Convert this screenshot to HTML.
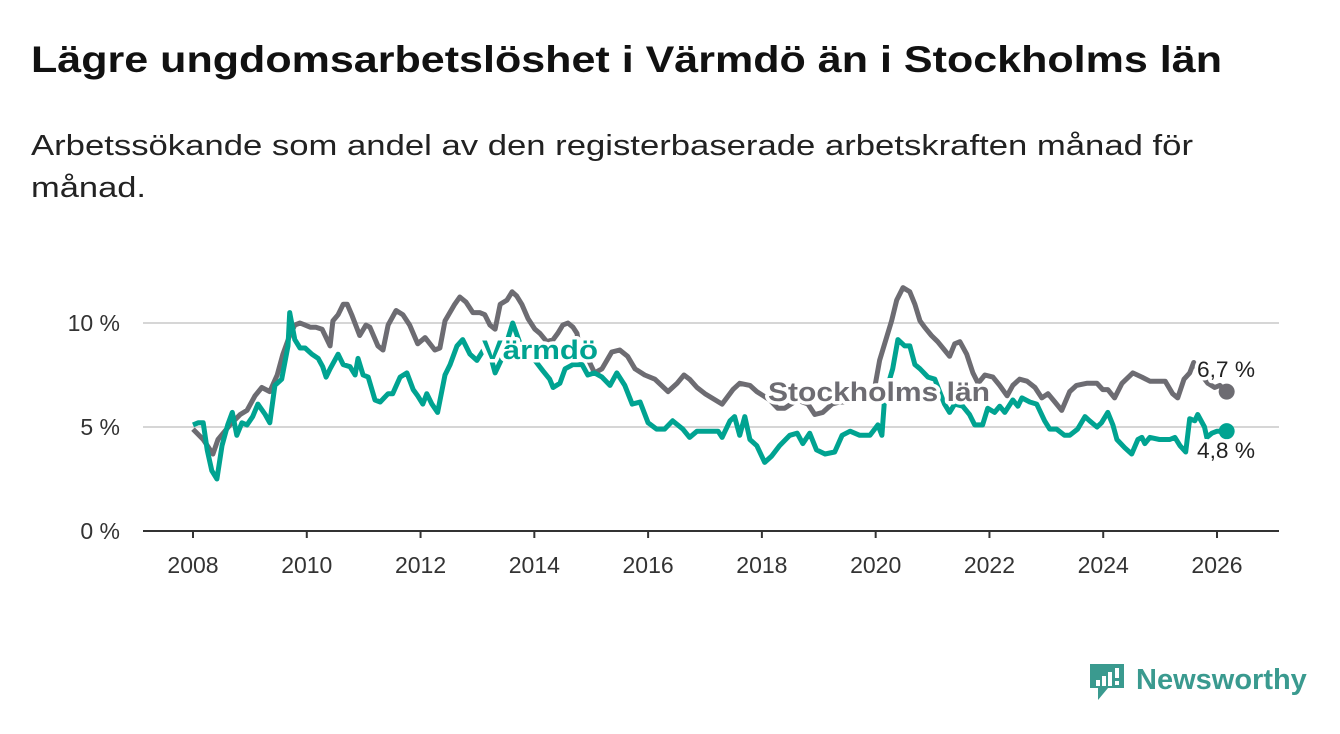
<!DOCTYPE html>
<html><head><meta charset="utf-8"><style>
body{margin:0;background:#fff;width:1340px;height:734px;overflow:hidden;font-family:"Liberation Sans",sans-serif}
</style></head><body>
<svg width="1340" height="734" style="position:absolute;left:0;top:0">
<text x="31" y="72" font-size="37" font-weight="bold" fill="#111" textLength="1191" lengthAdjust="spacingAndGlyphs">Lägre ungdomsarbetslöshet i Värmdö än i Stockholms län</text>
<text x="31" y="155" font-size="29" fill="#222" textLength="1162" lengthAdjust="spacingAndGlyphs">Arbetssökande som andel av den registerbaserade arbetskraften månad för</text>
<text x="31" y="197" font-size="29" fill="#222" textLength="115" lengthAdjust="spacingAndGlyphs">månad.</text>
<g id="grid"></g><g id="series"></g><g id="labels"></g>
<g>
<path d="M1090 664 h34 v24 h-16 l-10 12 v-12 h-8 z" fill="#3a9a8f"/>
<rect x="1096" y="680" width="4" height="6" fill="#fff"/><rect x="1102" y="676" width="4" height="10" fill="#fff"/><rect x="1108" y="672" width="4" height="14" fill="#fff"/><rect x="1115" y="668" width="4" height="10" fill="#fff"/><rect x="1115" y="681" width="4" height="4" fill="#fff"/>
<text x="1136" y="689" font-size="29" font-weight="bold" fill="#3a9a8f">Newsworthy</text>
</g>
</svg>
<script>
const yTicks=[0,5,10];
const yTickLabels=["0 %","5 %","10 %"];
const xTicks=[2008,2010,2012,2014,2016,2018,2020,2022,2024,2026];
const sthlmDates=[2008.00,2008.18,2008.35,2008.44,2008.65,2008.83,2008.95,2009.09,2009.21,2009.35,2009.48,2009.58,2009.70,2009.79,2009.88,2009.97,2010.06,2010.16,2010.27,2010.34,2010.41,2010.46,2010.55,2010.64,2010.71,2010.79,2010.93,2011.04,2011.11,2011.25,2011.34,2011.43,2011.57,2011.69,2011.81,2011.95,2012.08,2012.25,2012.34,2012.43,2012.60,2012.69,2012.80,2012.92,2013.04,2013.13,2013.22,2013.31,2013.40,2013.52,2013.61,2013.69,2013.78,2013.89,2014.01,2014.10,2014.22,2014.33,2014.41,2014.50,2014.59,2014.68,2014.75,2014.80,2014.92,2015.06,2015.19,2015.36,2015.50,2015.64,2015.77,2015.94,2016.12,2016.35,2016.51,2016.63,2016.73,2016.86,2017.00,2017.12,2017.30,2017.49,2017.61,2017.79,2017.91,2018.14,2018.28,2018.40,2018.62,2018.81,2018.93,2019.07,2019.23,2019.37,2019.55,2019.81,2019.99,2020.07,2020.18,2020.28,2020.37,2020.48,2020.60,2020.69,2020.78,2020.86,2020.98,2021.09,2021.21,2021.30,2021.39,2021.48,2021.60,2021.71,2021.80,2021.92,2022.06,2022.18,2022.31,2022.41,2022.53,2022.66,2022.80,2022.92,2023.03,2023.15,2023.27,2023.41,2023.53,2023.71,2023.89,2023.99,2024.08,2024.20,2024.33,2024.52,2024.68,2024.82,2025.09,2025.22,2025.31,2025.42,2025.52,2025.59,2025.70,2025.84,2025.96,2026.05,2026.17];
const sthlmValues=[4.9,4.4,3.7,4.4,5.1,5.6,5.8,6.5,6.9,6.7,7.5,8.5,9.4,9.9,10.0,9.9,9.8,9.8,9.7,9.3,8.9,10.1,10.4,10.9,10.9,10.4,9.4,9.9,9.8,8.9,8.7,9.9,10.6,10.4,9.9,9.0,9.3,8.7,8.8,10.1,10.9,11.25,11.0,10.5,10.5,10.4,9.9,9.7,10.9,11.1,11.5,11.3,10.9,10.2,9.7,9.5,9.1,9.2,9.5,9.9,10.0,9.8,9.5,8.7,8.4,7.6,7.8,8.6,8.7,8.4,7.8,7.5,7.3,6.7,7.1,7.5,7.3,6.9,6.6,6.4,6.1,6.8,7.1,7.0,6.7,6.3,5.9,5.9,6.3,6.1,5.6,5.7,6.1,6.2,6.2,6.4,7.0,8.2,9.2,10.1,11.1,11.7,11.5,10.9,10.1,9.8,9.4,9.1,8.7,8.4,9.0,9.1,8.5,7.6,7.1,7.5,7.4,7.0,6.5,7.0,7.3,7.2,6.9,6.4,6.6,6.2,5.8,6.7,7.0,7.1,7.1,6.8,6.8,6.4,7.1,7.6,7.4,7.2,7.2,6.6,6.4,7.3,7.6,8.1,7.6,7.1,6.9,7.0,6.7];
const varmdoDates=[2008.00,2008.09,2008.18,2008.25,2008.33,2008.42,2008.51,2008.61,2008.69,2008.77,2008.86,2008.95,2009.05,2009.14,2009.27,2009.35,2009.44,2009.56,2009.67,2009.70,2009.79,2009.88,2009.97,2010.09,2010.20,2010.28,2010.34,2010.41,2010.55,2010.64,2010.76,2010.85,2010.90,2010.99,2011.08,2011.20,2011.29,2011.43,2011.51,2011.64,2011.76,2011.87,2011.95,2012.04,2012.11,2012.20,2012.30,2012.43,2012.52,2012.64,2012.74,2012.87,2012.99,2013.13,2013.25,2013.31,2013.43,2013.53,2013.62,2013.75,2013.89,2014.01,2014.15,2014.27,2014.33,2014.45,2014.54,2014.68,2014.84,2014.94,2015.06,2015.19,2015.33,2015.45,2015.59,2015.72,2015.86,2016.00,2016.15,2016.29,2016.43,2016.61,2016.73,2016.86,2017.05,2017.23,2017.30,2017.44,2017.52,2017.61,2017.70,2017.79,2017.91,2018.05,2018.17,2018.31,2018.49,2018.62,2018.72,2018.84,2018.96,2019.11,2019.28,2019.41,2019.55,2019.72,2019.90,2020.04,2020.11,2020.16,2020.30,2020.39,2020.51,2020.60,2020.69,2020.78,2020.92,2021.04,2021.21,2021.30,2021.39,2021.53,2021.65,2021.74,2021.88,2021.97,2022.09,2022.18,2022.27,2022.41,2022.50,2022.57,2022.71,2022.83,2022.97,2023.06,2023.18,2023.32,2023.41,2023.55,2023.68,2023.76,2023.89,2023.97,2024.08,2024.17,2024.24,2024.38,2024.50,2024.61,2024.68,2024.73,2024.82,2024.99,2025.17,2025.26,2025.35,2025.45,2025.52,2025.61,2025.66,2025.78,2025.82,2025.91,2026.00,2026.17];
const varmdoValues=[5.1,5.2,5.2,3.9,2.9,2.5,4.1,5.1,5.7,4.6,5.2,5.1,5.5,6.1,5.6,5.2,7.0,7.3,8.9,10.5,9.2,8.8,8.8,8.5,8.3,7.9,7.4,7.8,8.5,8.0,7.9,7.5,8.3,7.5,7.4,6.3,6.2,6.6,6.6,7.4,7.6,6.8,6.5,6.1,6.6,6.1,5.7,7.5,8.0,8.9,9.2,8.5,8.2,8.8,8.2,7.6,8.3,9.2,10.0,9.0,8.5,8.2,7.7,7.3,6.9,7.1,7.8,8.0,8.0,7.5,7.6,7.4,7.0,7.6,7.0,6.1,6.2,5.2,4.9,4.9,5.3,4.9,4.5,4.8,4.8,4.8,4.5,5.3,5.5,4.6,5.5,4.4,4.1,3.3,3.6,4.1,4.6,4.7,4.2,4.7,3.9,3.7,3.8,4.6,4.8,4.6,4.6,5.1,4.6,6.5,7.8,9.2,8.9,8.9,8.0,7.8,7.4,7.3,6.1,5.7,6.1,6.0,5.6,5.1,5.1,5.9,5.7,6.0,5.7,6.3,6.0,6.4,6.2,6.1,5.3,4.9,4.9,4.6,4.6,4.9,5.5,5.3,5.0,5.2,5.7,5.1,4.4,4.0,3.7,4.4,4.5,4.2,4.5,4.4,4.4,4.5,4.1,3.8,5.4,5.3,5.6,5.0,4.5,4.7,4.8,4.8];
const NS='http://www.w3.org/2000/svg';
const X=y=>193+(y-2008)*(1217-193)/18;
const Y=v=>531-v*20.8;
function mk(t,a,p){const e=document.createElementNS(NS,t);for(const k in a)e.setAttribute(k,a[k]);p.appendChild(e);return e;}
const grid=document.getElementById('grid'),ser=document.getElementById('series'),lab=document.getElementById('labels');
yTicks.forEach((t,i)=>{
 const l=mk('line',{x1:143,x2:1279,y1:Y(t),y2:Y(t),stroke:t===0?'#333':'#d6d6d6','stroke-width':2},grid);
 
 
 const tx=mk('text',{x:120,y:Y(t)+8,'font-size':23,fill:'#333','text-anchor':'end'},grid);tx.textContent=yTickLabels[i];
 
 
});
xTicks.forEach(t=>{
 const l=mk('line',{x1:X(t),x2:X(t),y1:531,y2:538,stroke:'#333','stroke-width':2},grid);
 
 
 const tx=mk('text',{x:X(t),y:573,'font-size':23,fill:'#333','text-anchor':'middle'},grid);tx.textContent=t;
 
 
});
function line(d,v,c,name){
 const p=mk('path',{d:d.map((x,i)=>(i?'L':'M')+X(x).toFixed(1)+' '+Y(v[i]).toFixed(1)).join(''),fill:'none',stroke:c,'stroke-width':5,'stroke-linejoin':'round'},ser);
 
 
 const c1=mk('circle',{cx:X(d[d.length-1]),cy:Y(v[v.length-1]),r:8,fill:c},ser);
 
 
}
line(sthlmDates,sthlmValues,'#6d6c72','stockholm-line');
line(varmdoDates,varmdoValues,'#00a391','varmdo-line');
function label(x,y,txt,c,w,name,size,len){
 const t=mk('text',{x:x,y:y,'font-size':size,'font-weight':w,fill:c,stroke:'#fff','stroke-width':7,'paint-order':'stroke','stroke-linejoin':'round',textLength:len,lengthAdjust:'spacingAndGlyphs'},lab);t.textContent=txt;
 
 
}
label(482,359,'Värmdö','#00a391','bold','varmdo-label',27,116);
label(768,401,'Stockholms län','#6d6c72','bold','stockholm-label',27,222);
label(1197,377,'6,7 %','#222','normal','stockholm-value-label',22,58);
label(1197,458,'4,8 %','#222','normal','varmdo-value-label',22,58);
</script>
</body></html>
